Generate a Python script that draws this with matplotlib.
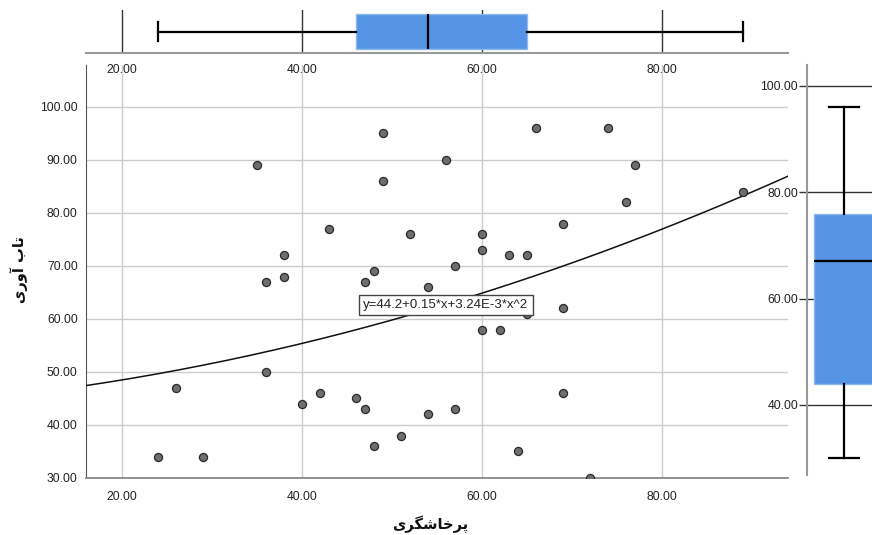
import matplotlib
matplotlib.use("Agg")
import matplotlib.pyplot as plt
import numpy as np

# ---------------- data ----------------
aggression = [35, 38, 36, 38, 36, 26, 40, 42, 24, 29,
              43, 49, 49, 56, 66, 52, 60, 60, 63, 65,
              57, 48, 47, 54, 65, 60, 62, 46, 47, 54,
              57, 51, 48, 64, 74, 77, 76, 69, 69, 69,
              89, 72]
resilience = [89, 72, 67, 68, 50, 47, 44, 46, 34, 34,
              77, 95, 86, 90, 96, 76, 76, 73, 72, 72,
              70, 69, 67, 66, 61, 58, 58, 45, 43, 42,
              43, 38, 36, 35, 96, 89, 82, 78, 62, 46,
              84, 30]
fit_coefs = [44.2, 0.15, 3.24e-3]          # y = a + b*x + c*x^2
fit_label = "y=44.2+0.15*x+3.24E-3*x^2"
# box-plot statistics: whisker low, Q1, median, Q3, whisker high
x_box = [24, 46, 54, 65, 89]
y_box = [30, 44, 67, 76, 96]
x_ticks = [20, 40, 60, 80]
y_ticks = [30, 40, 50, 60, 70, 80, 90, 100]
y_box_ticks = [40, 60, 80, 100]
x_title = "پرخاشگری"
y_title = "تاب آوری"

# ---------------- minimal Arabic/Persian shaping ----------------
FORMS = {  # isolated, final, initial, medial
    "پ": (0xFB56, 0xFB57, 0xFB58, 0xFB59),
    "ر": (0xFEAD, 0xFEAE, None, None),
    "خ": (0xFEA5, 0xFEA6, 0xFEA7, 0xFEA8),
    "ا": (0xFE8D, 0xFE8E, None, None),
    "ش": (0xFEB5, 0xFEB6, 0xFEB7, 0xFEB8),
    "گ": (0xFB92, 0xFB93, 0xFB94, 0xFB95),
    "ی": (0xFBFC, 0xFBFD, 0xFBFE, 0xFBFF),
    "ت": (0xFE95, 0xFE96, 0xFE97, 0xFE98),
    "ب": (0xFE8F, 0xFE90, 0xFE91, 0xFE92),
    "آ": (0xFE81, 0xFE82, None, None),
    "و": (0xFEED, 0xFEEE, None, None),
}


def shape(text):
    out = []
    for i, ch in enumerate(text):
        if ch not in FORMS:
            out.append(ch)
            continue
        prev = text[i - 1] if i > 0 else None
        nxt = text[i + 1] if i + 1 < len(text) else None
        jp = prev in FORMS and FORMS[prev][2] is not None
        jn = FORMS[ch][2] is not None and nxt in FORMS
        f = FORMS[ch]
        if jp and jn:
            code = f[3]
        elif jp:
            code = f[1]
        elif jn:
            code = f[2]
        else:
            code = f[0]
        out.append(chr(code))
    return "".join(reversed(out))


# ---------------- figure ----------------
W, H = 872, 535
fig = plt.figure(figsize=(W / 100, H / 100), dpi=100)
plt.rcParams["font.family"] = ["Liberation Sans", "DejaVu Sans"]
TICK_FS = 8.7
TXT = "#222222"
BOX_FC = "#5594e4"


def frame(l, t, r, b):
    return [l / W, 1 - b / H, (r - l) / W, (b - t) / H]


# main scatter
ax = fig.add_axes(frame(86, 65, 788, 478))
ax.set_xlim(16, 94)
ax.set_ylim(30, 107.9)
ax.set_xticks(x_ticks)
ax.set_yticks(y_ticks)
ax.set_xticklabels([f"{v:.2f}" for v in x_ticks])
ax.set_yticklabels([f"{v:.2f}" for v in y_ticks])
ax.grid(True, color="#cccccc", lw=1)
ax.set_axisbelow(True)
for s in ("top", "right"):
    ax.spines[s].set_visible(False)
ax.spines["left"].set_color("#555555")
ax.spines["bottom"].set_color("#888888")
ax.spines["bottom"].set_linewidth(1.3)
ax.tick_params(axis="both", length=0, labelsize=TICK_FS, colors=TXT)
ax.tick_params(axis="y", pad=6)
ax.tick_params(axis="x", pad=9)

xs = np.linspace(16, 94, 300)
ax.plot(xs, fit_coefs[0] + fit_coefs[1] * xs + fit_coefs[2] * xs ** 2,
        color="#111111", lw=1.1, zorder=3)
ax.scatter(aggression, resilience, s=34, facecolor="#6e6e6e",
           edgecolor="#2a2a2a", linewidth=0.9, zorder=4)
ax.text(56.0, 62.6, fit_label, ha="center", va="center", fontsize=9.5,
        color=TXT, zorder=5,
        bbox=dict(boxstyle="square,pad=0.3", fc="white", ec="#444444", lw=1))

# top horizontal box plot
axt = fig.add_axes(frame(86, 10, 788, 53))
statx = [dict(whislo=x_box[0], q1=x_box[1], med=x_box[2], q3=x_box[3],
              whishi=x_box[4], fliers=[])]
axt.bxp(statx, positions=[0.5], widths=0.81, orientation="horizontal",
        patch_artist=True, showfliers=False, capwidths=0.42,
        manage_ticks=False,
        boxprops=dict(facecolor=BOX_FC, edgecolor="#8fb8ee", lw=1),
        medianprops=dict(color="black", lw=1.6),
        whiskerprops=dict(color="black", lw=1.6),
        capprops=dict(color="black", lw=1.6))
axt.set_xlim(16, 94)
axt.set_ylim(0, 1)
axt.set_xticks(x_ticks)
axt.set_xticklabels([f"{v:.2f}" for v in x_ticks])
axt.set_yticks([])
axt.grid(True, axis="x", color="#333333", lw=1)
axt.set_axisbelow(True)
for s in ("top", "right", "left"):
    axt.spines[s].set_visible(False)
axt.spines["bottom"].set_color("#999999")
axt.spines["bottom"].set_linewidth(1.5)
axt.tick_params(axis="x", length=0, labelsize=TICK_FS, colors=TXT, pad=8)

# right vertical box plot
axr = fig.add_axes(frame(807, 65, 881, 475))
staty = [dict(whislo=y_box[0], q1=y_box[1], med=y_box[2], q3=y_box[3],
              whishi=y_box[4], fliers=[])]
axr.bxp(staty, positions=[0.5], widths=0.81, orientation="vertical",
        patch_artist=True, showfliers=False, capwidths=0.405,
        manage_ticks=False,
        boxprops=dict(facecolor=BOX_FC, edgecolor="#8fb8ee", lw=1),
        medianprops=dict(color="black", lw=1.6),
        whiskerprops=dict(color="black", lw=1.6),
        capprops=dict(color="black", lw=1.6))
axr.set_xlim(0, 1)
axr.set_ylim(26.8, 103.95)
axr.set_yticks(y_box_ticks)
axr.set_yticklabels([f"{v:.2f}" for v in y_box_ticks])
axr.set_xticks([])
axr.grid(True, axis="y", color="#333333", lw=1)
axr.set_axisbelow(True)
for s in ("top", "right", "bottom"):
    axr.spines[s].set_visible(False)
axr.spines["left"].set_color("#999999")
axr.spines["left"].set_linewidth(1.5)
axr.tick_params(axis="y", length=6, width=1, color="#333333",
                labelsize=TICK_FS, labelcolor=TXT, pad=0.5)

# axis titles
fig.text(430 / W, 1 - 524 / H, shape(x_title), ha="center", va="center",
         fontsize=10.5, fontweight="bold", color="#111111",
         family=["DejaVu Sans"])
fig.text(19 / W, 1 - 270 / H, shape(y_title), ha="center", va="center",
         rotation=90, fontsize=10.5, fontweight="bold", color="#111111",
         family=["DejaVu Sans"])

fig.savefig("out.png", dpi=100)
